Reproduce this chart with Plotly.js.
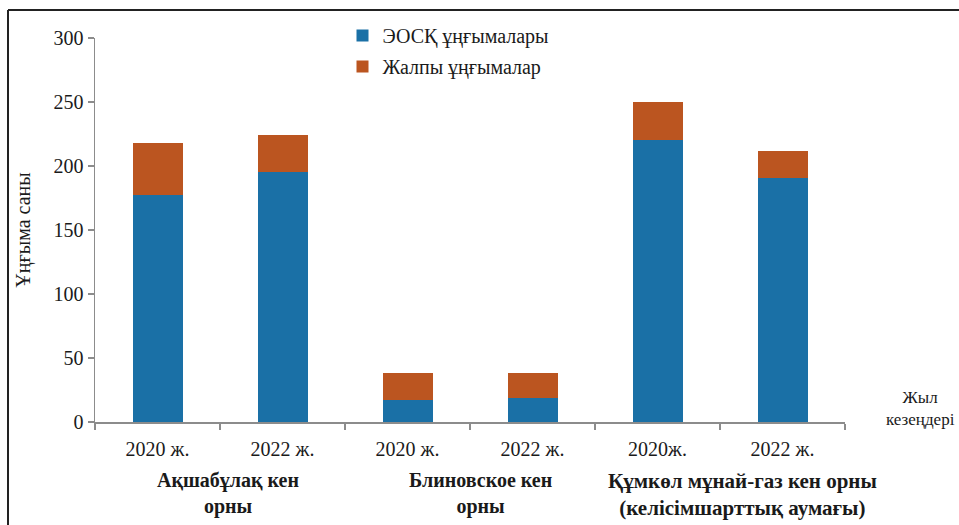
<!DOCTYPE html>
<html>
<head>
<meta charset="utf-8">
<script src="https://cdn.plot.ly/plotly-3.0.1.min.js"></script>
<style>html,body{margin:0;padding:0;background:#fff;}#chart{width:959px;height:525px;}</style>
</head>
<body>
<div id="chart"></div>
<script>
// Data
const periods = ["2020 ж.", "2022 ж.", "2020 ж.", "2022 ж.", "2020ж.", "2022 ж."];
const eoskWells = [177, 195, 17, 19, 220, 191];
const totalWells = [218, 224, 38, 38, 250, 212];
const generalWells = totalWells.map((t, i) => t - eoskWells[i]);
const fields = ["Ақшабұлақ кен<br>орны", "Блиновское кен<br>орны", "Құмкөл мұнай-газ кен орны<br>(келісімшарттық аумағы)"];
const seriesNames = ["ЭОСҚ ұңғымалары", "Жалпы ұңғымалар"];
const yTitle = "Ұңғыма саны";
const xTitle = "Жыл<br>кезеңдері";

const idx = periods.map((_, i) => i);
const serif = "Liberation Serif";
const ink = '#1a1a1a';

const traces = [
  {type: 'bar', x: idx, y: eoskWells, name: seriesNames[0], legendgroup: 'a',
   marker: {color: '#1a70a6'}, width: 0.4},
  {type: 'bar', x: idx, y: generalWells, name: seriesNames[1], legendgroup: 'b',
   marker: {color: '#bb5520'}, width: 0.4}
];

const fieldX = [0.56, 2.58, 4.68];
const fieldSize = [20, 20, 21];
const annotations = fields.map((f, i) => ({
  xref: 'x', yref: 'paper', x: fieldX[i], y: -0.117, yanchor: 'top', xanchor: 'center',
  text: '<b>' + f + '</b>', showarrow: false, align: 'center',
  font: {family: serif, size: fieldSize[i], color: ink}
}));
annotations.push({
  xref: 'paper', yref: 'paper', x: 1.1, y: 0.036, xanchor: 'center', yanchor: 'middle',
  text: xTitle, showarrow: false, align: 'center',
  font: {family: serif, size: 17, color: ink}
});

const layout = {
  width: 959, height: 525,
  margin: {l: 95, r: 114, t: 38, b: 103},
  paper_bgcolor: '#fff', plot_bgcolor: '#fff',
  barmode: 'stack',
  showlegend: true,
  legend: {x: 0.33, y: 1.057, xanchor: 'left', yanchor: 'top', traceorder: 'grouped',
           tracegroupgap: 2, bgcolor: 'rgba(0,0,0,0)',
           font: {family: serif, size: 20, color: ink}, itemwidth: 30},
  xaxis: {
    range: [-0.5, 5.5], tickmode: 'array', tickvals: idx, ticktext: periods,
    showline: true, linecolor: '#8c8c8c', linewidth: 1.5, showgrid: false, zeroline: false,
    ticks: 'outside', ticklen: 8, tickcolor: 'rgba(0,0,0,0)',
    minor: {tickvals: [-0.5, 0.5, 1.5, 2.5, 3.5, 4.5, 5.5], ticks: 'outside', ticklen: 6,
            tickcolor: '#8c8c8c', tickwidth: 1.5, showgrid: false},
    tickfont: {family: serif, size: 20, color: ink}
  },
  yaxis: {
    range: [0, 300], tickvals: [0, 50, 100, 150, 200, 250, 300],
    showline: true, linecolor: '#8c8c8c', linewidth: 1.5, showgrid: false, zeroline: false,
    ticks: 'outside', ticklen: 6, tickcolor: '#8c8c8c', tickwidth: 1.5,
    tickfont: {family: serif, size: 20, color: ink},
    title: {text: yTitle, standoff: 17, font: {family: serif, size: 20, color: ink}}
  },
  annotations: annotations,
  shapes: [
    {type: 'line', xref: 'paper', yref: 'paper', x0: (8 - 95) / 750, x1: (959 - 95) / 750,
     y0: (422 - 10) / 384, y1: (422 - 10) / 384, line: {color: '#222', width: 2}},
    {type: 'line', xref: 'paper', yref: 'paper', x0: (8 - 95) / 750, x1: (8 - 95) / 750,
     y0: (422 - 10) / 384, y1: (422 - 526) / 384, line: {color: '#222', width: 2}}
  ]
};

Plotly.newPlot('chart', traces, layout, {displayModeBar: false, staticPlot: true});
</script>
</body>
</html>
